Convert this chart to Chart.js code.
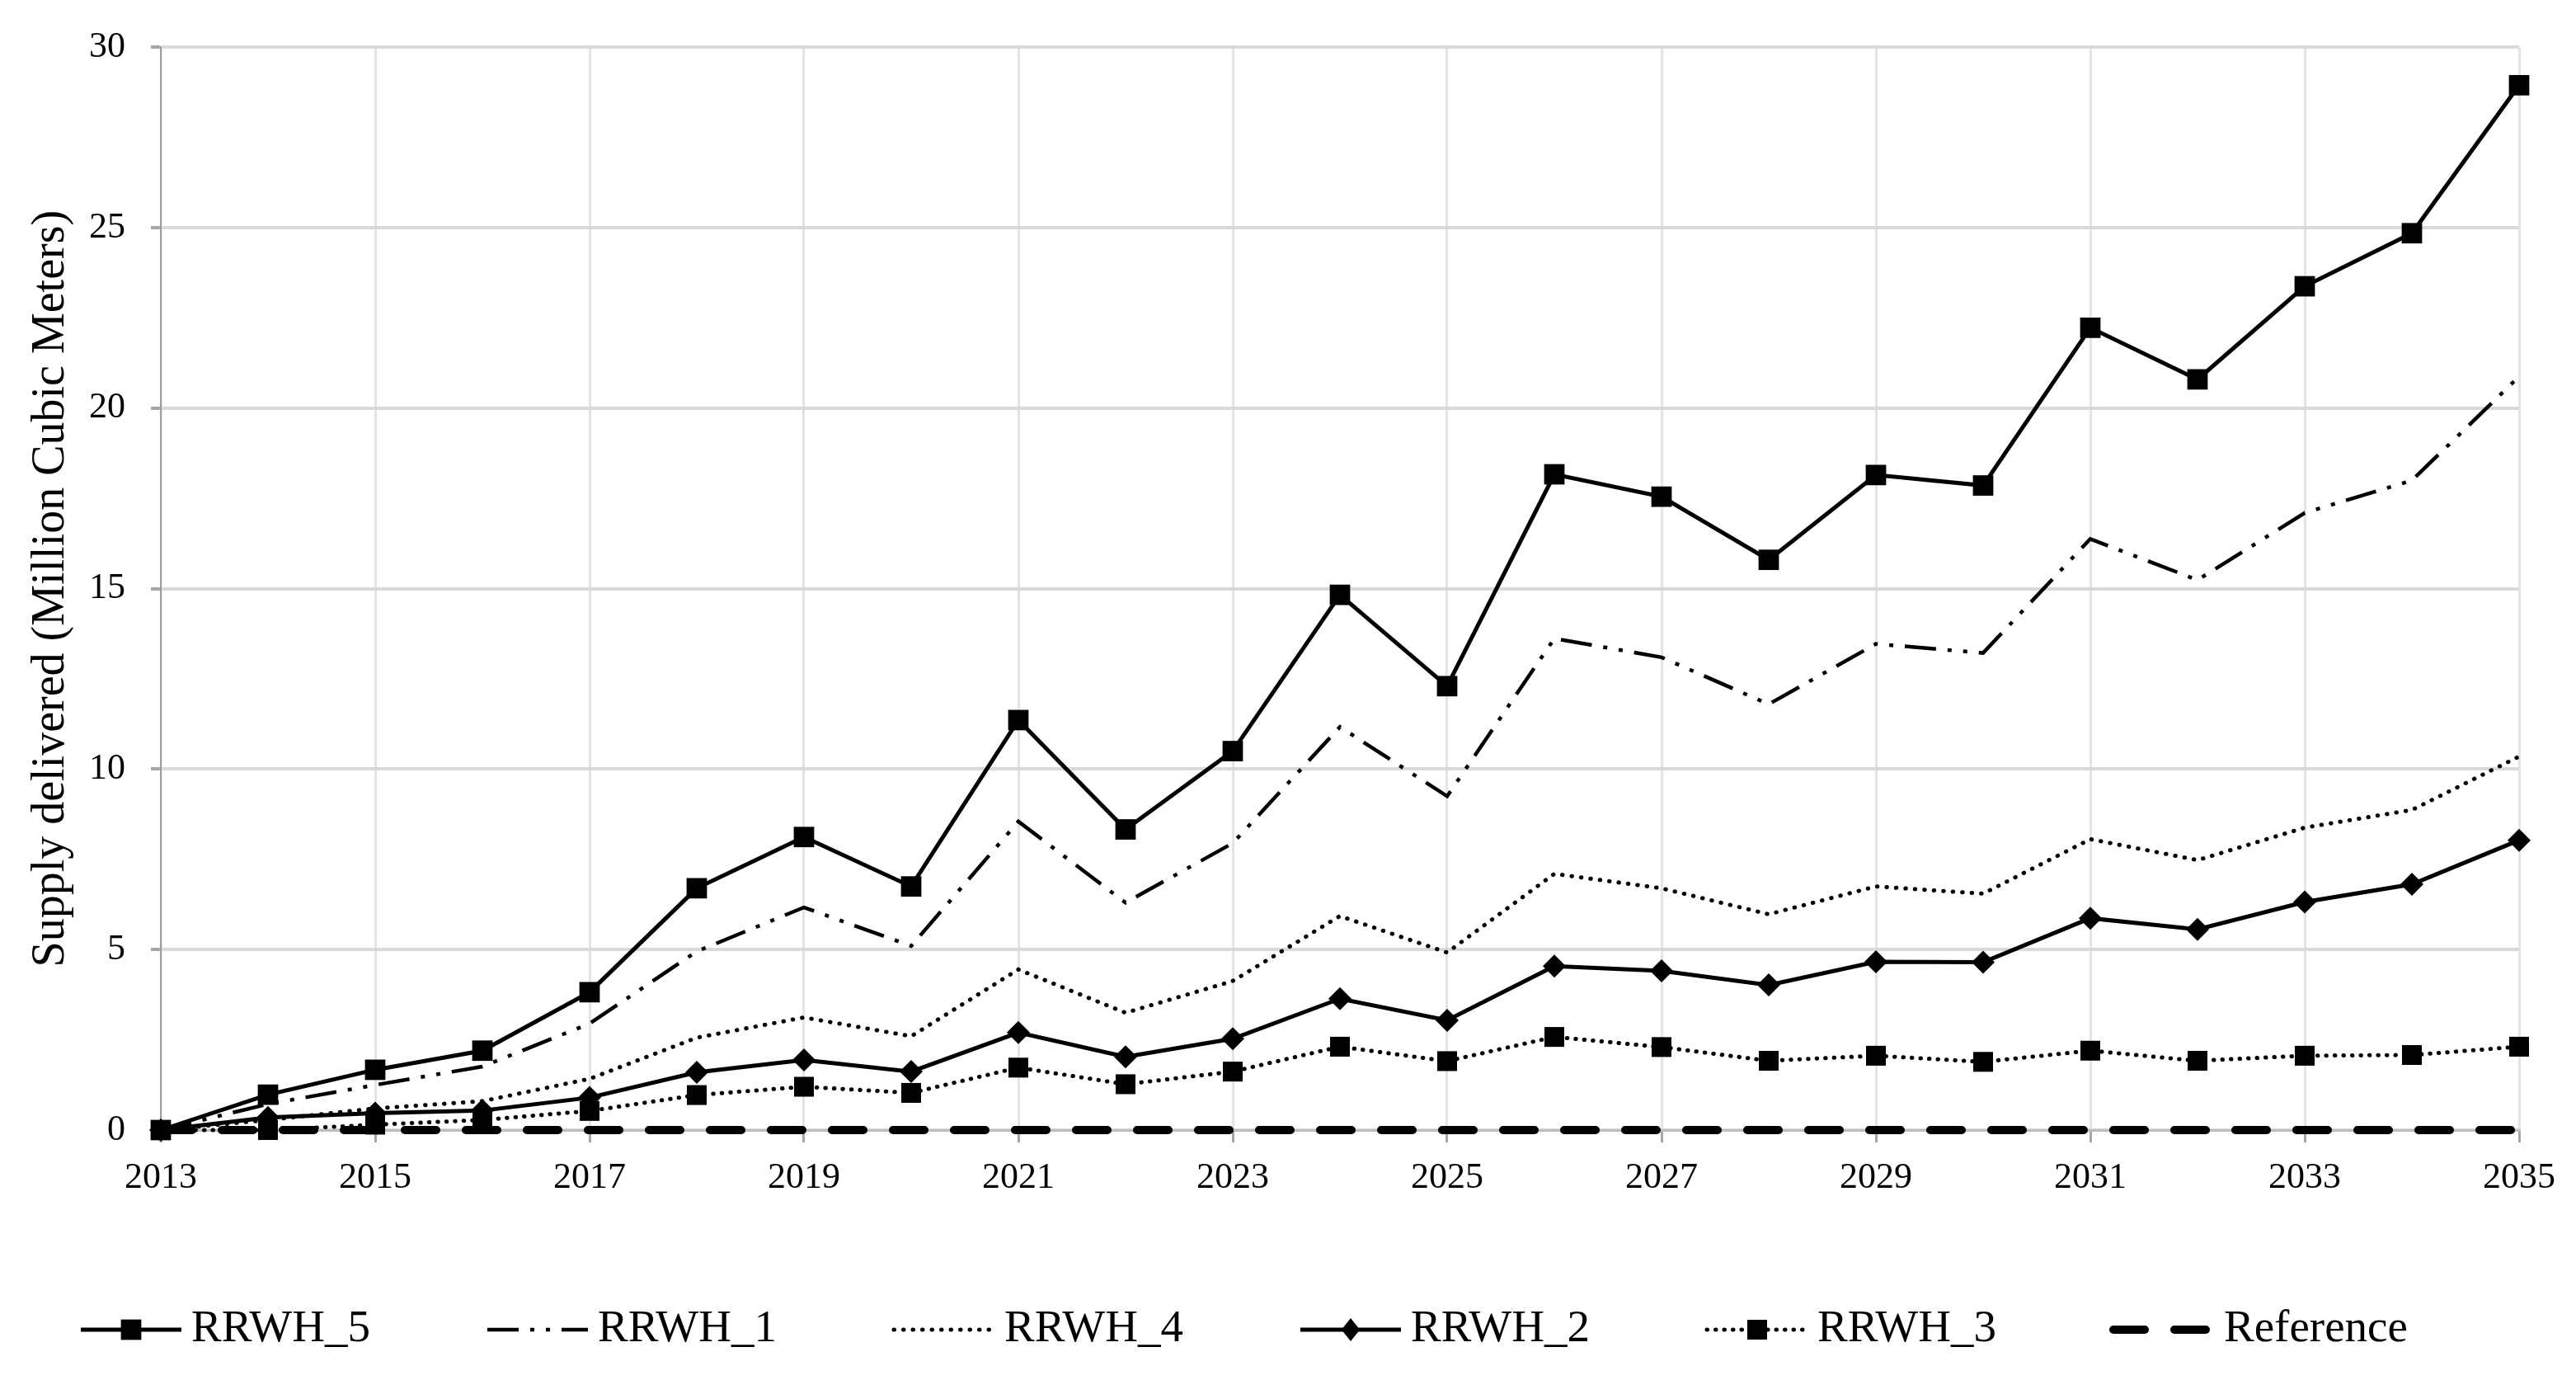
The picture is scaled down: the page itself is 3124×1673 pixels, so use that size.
<!DOCTYPE html>
<html>
<head>
<meta charset="utf-8">
<script src="https://cdn.jsdelivr.net/npm/chart.js@4.4.1/dist/chart.umd.min.js"></script>
<style>
  html, body { margin: 0; padding: 0; background: #fff; }
  #wrap { width: 3124px; height: 1673px; }
</style>
</head>
<body>
<div id="wrap"><canvas id="supplyChart"></canvas></div>
<script>
// years on the x axis
const years = ["2013", "2014", "2015", "2016", "2017", "2018", "2019", "2020", "2021", "2022", "2023",
  "2024", "2025", "2026", "2027", "2028", "2029", "2030", "2031", "2032", "2033", "2034", "2035"]

// supply delivered per scenario (million m3)
const rrwh5 = [0, 0.98, 1.67, 2.2, 3.82, 6.7, 8.12, 6.75, 11.36, 8.33, 10.5, 14.83, 12.3, 18.17, 17.55, 15.8, 18.15, 17.86, 22.23, 20.8, 23.38, 24.85, 28.95]
const rrwh1 = [0, 0.72, 1.25, 1.76, 2.95, 4.95, 6.17, 5.1, 8.55, 6.3, 7.95, 11.17, 9.25, 13.62, 13.1, 11.8, 13.47, 13.22, 16.38, 15.24, 17.1, 18.0, 20.88]
const rrwh4 = [0, 0.28, 0.6, 0.8, 1.42, 2.56, 3.12, 2.6, 4.45, 3.25, 4.13, 5.93, 4.92, 7.1, 6.7, 5.98, 6.75, 6.55, 8.06, 7.48, 8.38, 8.87, 10.35]
const rrwh2 = [0, 0.35, 0.47, 0.54, 0.9, 1.6, 1.94, 1.62, 2.7, 2.03, 2.53, 3.64, 3.04, 4.54, 4.41, 4.02, 4.66, 4.65, 5.87, 5.56, 6.32, 6.81, 8.03]
const rrwh3 = [0, 0, 0.15, 0.28, 0.53, 0.97, 1.2, 1.03, 1.73, 1.27, 1.62, 2.31, 1.91, 2.58, 2.3, 1.92, 2.06, 1.89, 2.2, 1.92, 2.06, 2.08, 2.31]
const reference = [0, 0, 0, 0, 0, 0, 0, 0, 0, 0, 0, 0, 0, 0, 0, 0, 0, 0, 0, 0, 0, 0, 0]

const yTicks = [0, 5, 10, 15, 20, 25, 30]

const serif = "'Liberation Serif', 'Times New Roman', serif"

// legend drawn by hand: line sample with marker in the middle, then label
const lineLegend = {
    id: "lineLegend",
    afterDraw(chart) {
        const ctx = chart.ctx
        const y = 1612
        chart.data.datasets.forEach((ds, i) => {
            const x0 = 98 + i * 493
            const len = 122
            ctx.save()
            ctx.strokeStyle = ds.borderColor
            ctx.lineWidth = ds.borderWidth
            ctx.lineCap = ds.borderCapStyle || "butt"
            ctx.setLineDash(ds.borderDash || [])
            ctx.beginPath()
            ctx.moveTo(x0, y)
            ctx.lineTo(x0 + len, y)
            ctx.stroke()
            ctx.setLineDash([])
            if (ds.pointRadius > 0) {
                const cx = x0 + len / 2
                const r = ds.pointRadius
                ctx.fillStyle = "#000"
                ctx.beginPath()
                if (ds.pointStyle === "rectRot") {
                    ctx.moveTo(cx - r * 0.8, y)
                    ctx.lineTo(cx, y - r)
                    ctx.lineTo(cx + r * 0.8, y)
                    ctx.lineTo(cx, y + r)
                } else {
                    const s = r * Math.SQRT1_2
                    ctx.rect(cx - s, y - s, 2 * s, 2 * s)
                }
                ctx.closePath()
                ctx.fill()
            }
            ctx.fillStyle = "#000"
            ctx.font = "55px " + serif
            ctx.textAlign = "left"
            ctx.textBaseline = "middle"
            ctx.fillText(ds.label, x0 + len + 12, y)
            ctx.restore()
        })
    }
}

const ctx = document.getElementById("supplyChart")
new Chart(ctx, {
    type: "line",
    data: {
        labels: years,
        datasets: [
            {
                label: "RRWH_5",
                data: rrwh5,
                borderColor: "#000",
                borderWidth: 5,
                pointStyle: "rect",
                pointRadius: 17.5,
                pointBackgroundColor: "#000",
                pointBorderWidth: 0
            },
            {
                label: "RRWH_1",
                data: rrwh1,
                borderColor: "#000",
                borderWidth: 4.5,
                borderDash: [38, 14, 5, 14, 5, 14],
                pointRadius: 0
            },
            {
                label: "RRWH_4",
                data: rrwh4,
                borderColor: "#000",
                borderWidth: 5,
                borderCapStyle: "round",
                borderDash: [0.5, 11],
                pointRadius: 0
            },
            {
                label: "RRWH_2",
                data: rrwh2,
                borderColor: "#000",
                borderWidth: 5,
                pointStyle: "rectRot",
                pointRadius: 14,
                pointBackgroundColor: "#000",
                pointBorderWidth: 0
            },
            {
                label: "RRWH_3",
                data: rrwh3,
                borderColor: "#000",
                borderWidth: 5,
                borderCapStyle: "round",
                borderDash: [0.5, 10],
                pointStyle: "rect",
                pointRadius: 17,
                pointBackgroundColor: "#000",
                pointBorderWidth: 0
            },
            {
                label: "Reference",
                data: reference,
                borderColor: "#000",
                borderWidth: 10,
                borderCapStyle: "round",
                borderDash: [38, 36],
                pointRadius: 0
            }
        ]
    },
    options: {
        responsive: true,
        maintainAspectRatio: false,
        devicePixelRatio: 1,
        animation: false,
        clip: false,
        elements: { line: { tension: 0 } },
        layout: { padding: { left: 0, right: 69, top: 52, bottom: 203 } },
        plugins: {
            legend: { display: false },
            tooltip: { enabled: false }
        },
        scales: {
            x: {
                offset: false,
                afterFit: (scale) => { scale.height = 100 },
                grid: {
                    color: "#e4e4e4",
                    lineWidth: 3,
                    tickColor: "#a6a6a6",
                    tickLength: 15
                },
                border: { color: "#bdbdbd", width: 3 },
                ticks: {
                    autoSkip: false,
                    maxRotation: 0,
                    padding: 17,
                    color: "#000",
                    font: { family: serif, size: 44 },
                    callback: (val, i) => (i % 2 === 0 ? years[i] : null)
                }
            },
            y: {
                min: 0,
                max: 30,
                afterFit: (scale) => { scale.width = 195 },
                afterBuildTicks: (scale) => { scale.ticks = yTicks.map(v => ({ value: v })) },
                grid: {
                    color: "#d9d9d9",
                    lineWidth: 4,
                    tickColor: "#a6a6a6",
                    tickLength: 12
                },
                border: { color: "#9e9e9e", width: 2 },
                ticks: {
                    padding: 31,
                    color: "#000",
                    font: { family: serif, size: 44 }
                },
                title: {
                    display: true,
                    text: "Supply delivered (Million Cubic Meters)",
                    color: "#000",
                    font: { family: serif, size: 56 },
                    padding: { top: 29, bottom: 0 }
                }
            }
        }
    },
    plugins: [lineLegend]
})
</script>
</body>
</html>
